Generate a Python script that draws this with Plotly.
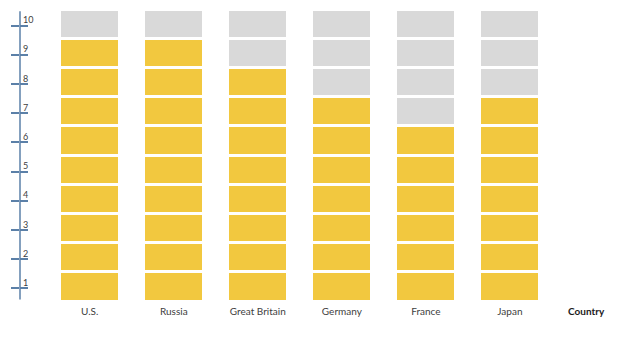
import plotly.graph_objects as go

countries = ["U.S.", "Russia", "Great Britain", "Germany", "France", "Japan"]
scores = [9, 9, 8, 7, 6, 7]
levels = list(range(1, 11))
tick_labels = [str(k) for k in levels]

YELLOW = "#F2C83F"
GRAY = "#D9D9D9"
AXIS = "#5B80A8"
FONT = "Lato, Open Sans, sans-serif"

fig = go.Figure()
for k in levels:
    fig.add_trace(go.Bar(
        x=countries,
        y=[1] * len(countries),
        width=0.714,
        marker=dict(color=[YELLOW if s >= k else GRAY for s in scores],
                    line=dict(color="white", width=3)),
        showlegend=False,
        hoverinfo="skip",
    ))

tick_pos = [k - 0.57 for k in levels]
label_pos = [k - 0.38 for k in levels]

fig.update_layout(
    barmode="stack",
    width=636, height=343,
    margin=dict(l=20, r=16, t=9, b=42),
    paper_bgcolor="white", plot_bgcolor="white",
    font=dict(family=FONT, size=10, color="#404040"),
    xaxis=dict(
        range=[-0.83, 6.31],
        showgrid=False, zeroline=False, showline=False,
        ticks="", tickfont=dict(size=10, color="#404040"),
        ticklabelstandoff=3,
    ),
    yaxis=dict(
        range=[0, 10], fixedrange=True,
        showgrid=False, zeroline=False, showline=False,
        tickvals=tick_pos, ticktext=[""] * len(levels),
        ticks="outside", ticklen=8, tickcolor=AXIS, tickwidth=1.5,
    ),
    yaxis2=dict(
        overlaying="y", anchor="x", side="left",
        range=[0, 10], showgrid=False, zeroline=False, showline=False,
        tickvals=tick_pos, ticktext=[""] * len(levels),
        ticks="inside", ticklen=8, tickcolor=AXIS, tickwidth=1.5,
    ),
    yaxis3=dict(
        overlaying="y", anchor="x", side="left",
        range=[0, 10], showgrid=False, zeroline=False, showline=False,
        tickvals=label_pos, ticktext=tick_labels,
        ticks="", ticklabelposition="inside",
        tickfont=dict(size=9, color="#404040"),
    ),
    shapes=[dict(
        type="line", xref="paper", yref="y",
        x0=0, x1=0, y0=0.05, y1=9.92,
        line=dict(color=AXIS, width=1.5), layer="above",
    )],
    annotations=[dict(
        text="<b>Country</b>", xref="paper", yref="paper",
        x=(586 - 20) / 600, y=-(311 - 301) / 292,
        xanchor="center", yanchor="middle", showarrow=False,
        font=dict(size=10, color="#1a1a1a", family=FONT),
    )],
)

# invisible traces so the overlay axes render
fig.add_trace(go.Scatter(x=[countries[0]], y=[0.5], yaxis="y2", mode="markers",
                         marker=dict(opacity=0), showlegend=False, hoverinfo="skip"))
fig.add_trace(go.Scatter(x=[countries[0]], y=[0.5], yaxis="y3", mode="markers",
                         marker=dict(opacity=0), showlegend=False, hoverinfo="skip"))

fig.write_html("out.html")
